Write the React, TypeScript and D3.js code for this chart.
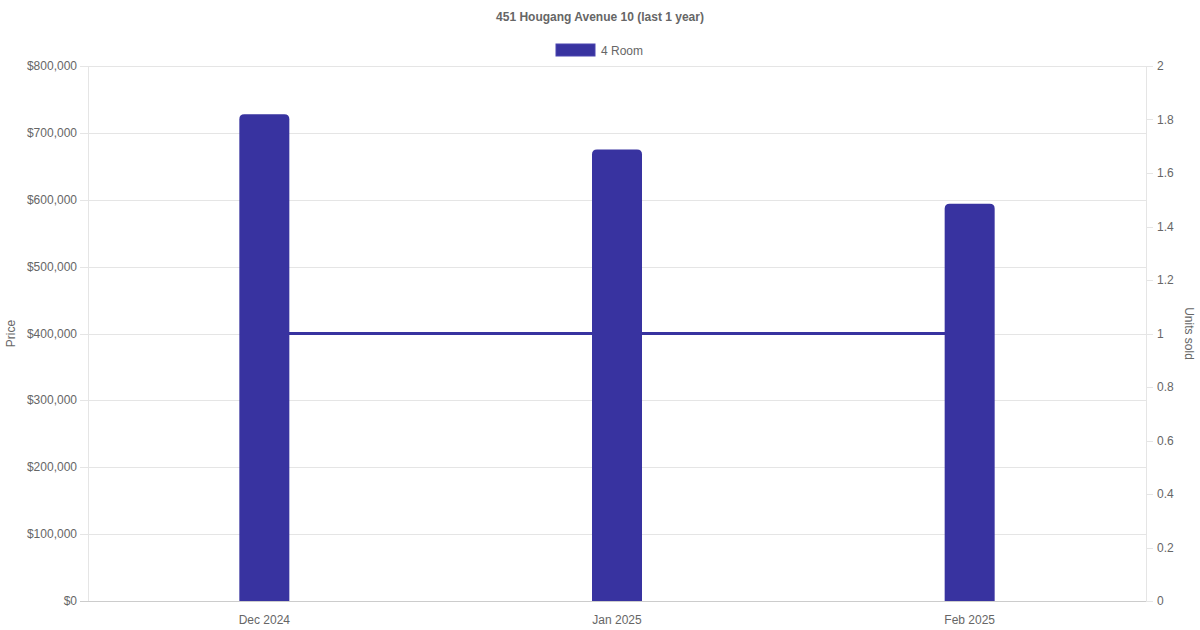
import React from "react";
import * as d3 from "d3";

const title = "451 Hougang Avenue 10 (last 1 year)";
const seriesName = "4 Room";
const months = ["Dec 2024", "Jan 2025", "Feb 2025"];
const prices = [728000, 675000, 594000];
const unitsSold = [1, 1, 1];
const priceTicks = [0, 100000, 200000, 300000, 400000, 500000, 600000, 700000, 800000];
const unitTicks = [0, 0.2, 0.4, 0.6, 0.8, 1, 1.2, 1.4, 1.6, 1.8, 2];

const W = 1200, H = 630;
const L = 88, R = 1146, T = 66, B = 601;
const COLOR = "#3833a0";
const FONT = "'Liberation Sans', Arial, Helvetica, sans-serif";

export default function App() {
  const x = d3.scaleBand().domain(months).range([L, R]);
  const yL = d3.scaleLinear().domain([0, 800000]).range([B, T]);
  const yR = d3.scaleLinear().domain([0, 2]).range([B, T]);
  const fmt = (v: number) => "$" + d3.format(",")(v);
  const barW = 50;
  const r = 5;
  const cx = (m: string) => (x(m) as number) + x.bandwidth() / 2;
  const line = d3.line<number>().x((_, i) => cx(months[i])).y((d) => yR(d));

  const barPath = (m: string, v: number) => {
    const x0 = cx(m) - barW / 2, x1 = x0 + barW, y0 = yL(v), y1 = B;
    return `M${x0},${y1}L${x0},${y0 + r}Q${x0},${y0} ${x0 + r},${y0}L${x1 - r},${y0}Q${x1},${y0} ${x1},${y0 + r}L${x1},${y1}Z`;
  };

  return (
    <svg width={W} height={H} style={{ position: "absolute", left: 0, top: 0 }} fontFamily={FONT}>
      <rect width={W} height={H} fill="#fff" />
      <text x={600} y={21} textAnchor="middle" fontSize={12} fontWeight="bold" fill="#666">{title}</text>
      <rect x={556} y={44} width={39} height={12} fill={COLOR} stroke="#4a44b0" strokeWidth={1} />
      <text x={601} y={54.5} fontSize={12} fill="#666">{seriesName}</text>

      {priceTicks.map((t) => (
        <g key={t}>
          <line x1={80} x2={R} y1={Math.round(yL(t)) + 0.5} y2={Math.round(yL(t)) + 0.5} stroke={t === 0 ? "#ccc" : "#e5e5e5"} />
          <text x={77} y={yL(t) + 4} textAnchor="end" fontSize={12} fill="#666">{fmt(t)}</text>
        </g>
      ))}
      <line x1={L + 0.5} x2={L + 0.5} y1={T} y2={B} stroke="#e5e5e5" />
      <line x1={R + 0.5} x2={R + 0.5} y1={T} y2={B} stroke="#e5e5e5" />
      {unitTicks.map((t) => (
        <g key={t}>
          <line x1={R} x2={R + 7} y1={Math.round(yR(t)) + 0.5} y2={Math.round(yR(t)) + 0.5} stroke="#e5e5e5" />
          <text x={1157} y={yR(t) + 4} fontSize={12} fill="#666">{String(t)}</text>
        </g>
      ))}
      {months.map((m) => (
        <text key={m} x={cx(m)} y={624} textAnchor="middle" fontSize={12} fill="#666">{m}</text>
      ))}
      <text transform={`translate(15,${(T + B) / 2}) rotate(-90)`} textAnchor="middle" fontSize={12} fill="#666">Price</text>
      <text transform={`translate(1185,${(T + B) / 2}) rotate(90)`} textAnchor="middle" fontSize={12} fill="#666">Units sold</text>

      <path d={line(unitsSold) as string} fill="none" stroke={COLOR} strokeWidth={3} />
      {months.map((m, i) => (
        <path key={m} d={barPath(m, prices[i])} fill={COLOR} />
      ))}
    </svg>
  );
}
